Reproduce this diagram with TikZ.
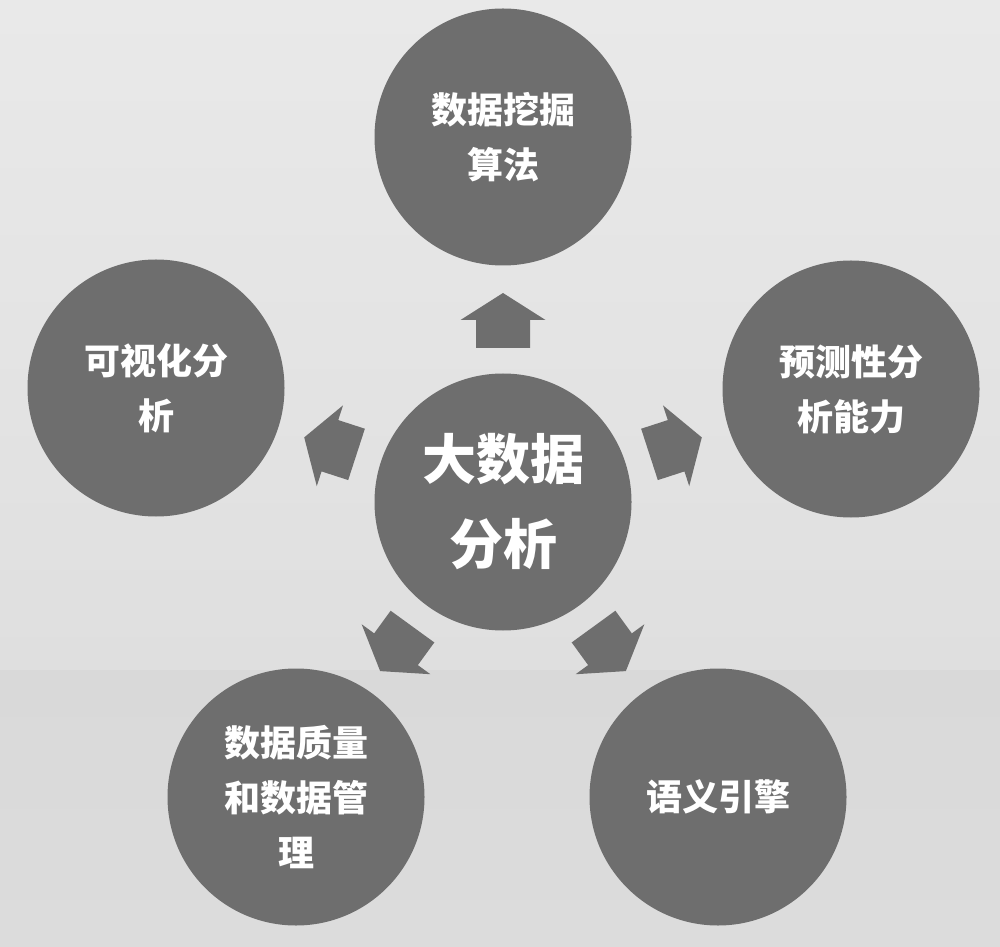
\documentclass[tikz,border=0pt]{standalone}
\usepackage{fontspec}
\usetikzlibrary{calc}
\newfontfamily\cjk{Noto Sans CJK SC}
\begin{document}
\begin{tikzpicture}[x=1pt,y=1pt,
  bubble/.style={circle,fill=circfill,minimum size=257pt,inner sep=0pt,text=white,align=center},
  outertext/.style={font=\cjk\bfseries\fontsize{36}{55}\selectfont},
  centertext/.style={font=\cjk\bfseries\fontsize{54}{85}\selectfont},
  blockarrow/.style={fill=circfill}]
\definecolor{circfill}{HTML}{6E6E6E}
\definecolor{bgtop}{HTML}{E9E9E9}
\definecolor{bgmid}{HTML}{DFDFDF}
\definecolor{bglow}{HTML}{D9D9D9}
\definecolor{bgbot}{HTML}{DCDCDC}
\useasboundingbox (0,0) rectangle (1000,946);
\shade[top color=bgtop,bottom color=bgmid] (0,276) rectangle (1000,946);
\shade[top color=bglow,bottom color=bgbot] (0,0) rectangle (1000,276);
% nodes
\node[bubble,centertext] (c) at (503,444) {大数据\\分析};
\node[bubble,outertext] (top) at (503,809) {数据挖掘\\算法};
\node[bubble,outertext] (left) at (156,558) {可视化分\\析};
\node[bubble,outertext] (right) at (851,557) {预测性分\\析能力};
\node[bubble,outertext] (bl) at (296,149) {数据质量\\和数据管\\理};
\node[bubble,outertext] (br) at (718,149) {语义引擎};
% block arrows (pentagonal arrangement around the centre)
\foreach \ang in {90,162,18,234,306}{
  \fill[blockarrow,rotate around={\ang-90:(c.center)}]
    ($(c.center)+(-27,154)$) -- ($(c.center)+(27,154)$) -- ($(c.center)+(27,182)$)
    -- ($(c.center)+(42.5,182)$) -- ($(c.center)+(0,209)$) -- ($(c.center)+(-42.5,182)$)
    -- ($(c.center)+(-27,182)$) -- cycle;
}
\end{tikzpicture}
\end{document}
